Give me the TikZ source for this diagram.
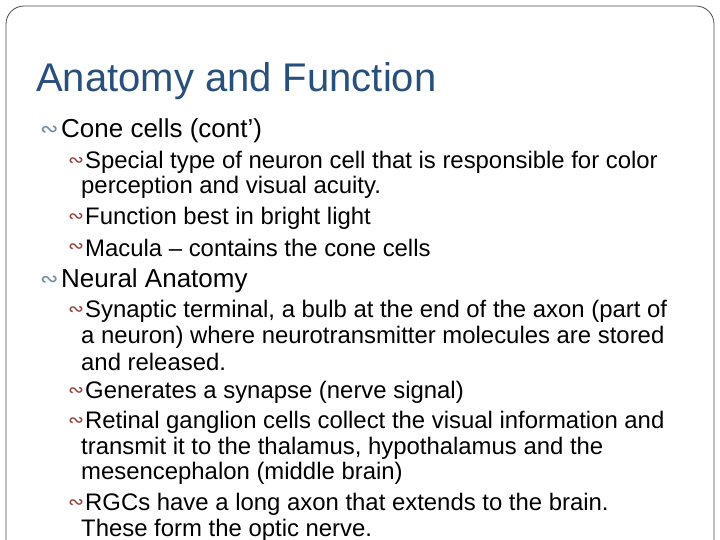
\documentclass[tikz,border=0pt]{standalone}
\usepackage{fontspec}
\setmainfont{Liberation Sans}
\newfontfamily\bulfont{DejaVu Sans}
\definecolor{titlec}{RGB}{40,80,125}
\definecolor{bulA}{RGB}{110,140,165}
\definecolor{bulB}{RGB}{150,60,50}
\begin{document}
\begin{tikzpicture}[x=1pt,y=-1pt,
  t1/.style={anchor=west,inner sep=0pt,font=\fontsize{26}{26}\selectfont},
  t2/.style={anchor=west,inner sep=0pt,font=\fontsize{23.9}{23.9}\selectfont},
  b1/.style={anchor=west,inner sep=0pt,text=bulA,font=\bulfont\fontsize{22}{22}\selectfont},
  b2/.style={anchor=west,inner sep=0pt,text=bulB,font=\bulfont\fontsize{19}{19}\selectfont}]
\useasboundingbox (0,0) rectangle (720,540);
\fill[white] (0,0) rectangle (720,540);
\draw[black!70,line width=0.8pt,rounded corners=18pt] (6,6) rectangle (714,560);
\node[anchor=west,inner sep=0pt,text=titlec,font=\fontsize{40}{40}\selectfont] (title) at (36,81) {Anatomy and Function};
\node[b1] (ba) at (40,131) {∾}; \node[t1] (la) at (61,131) {Cone cells (cont’)};
\node[b2] (bb) at (68,162) {∾}; \node[t2] (lb) at (85,162) {Special type of neuron cell that is responsible for color};
\node[t2] (lb2) at (81,187) {perception and visual acuity.};
\node[b2] (bc) at (68,218) {∾}; \node[t2] (lc) at (85,218) {Function best in bright light};
\node[b2] (bd) at (68,248) {∾}; \node[t2] (ld) at (85,248) {Macula – contains the cone cells};
\node[b1] (be) at (40,281) {∾}; \node[t1] (le) at (61,281) {Neural Anatomy};
\node[b2] (bf) at (68,311) {∾}; \node[t2] (lf) at (85,311) {Synaptic terminal, a bulb at the end of the axon (part of};
\node[t2] (lf2) at (81,337) {a neuron) where neurotransmitter molecules are stored};
\node[t2] (lf3) at (81,362) {and released.};
\node[b2] (bg) at (68,392) {∾}; \node[t2] (lg) at (85,392) {Generates a synapse (nerve signal)};
\node[b2] (bh) at (68,422) {∾}; \node[t2] (lh) at (85,422) {Retinal ganglion cells collect the visual information and};
\node[t2] (lh2) at (81,448) {transmit it to the thalamus, hypothalamus and the};
\node[t2] (lh3) at (81,473) {mesencephalon (middle brain)};
\node[b2] (bi) at (68,504) {∾}; \node[t2] (li) at (85,504) {RGCs have a long axon that extends to the brain.};
\node[t2] (li2) at (81,530) {These form the optic nerve.};
\end{tikzpicture}
\end{document}
